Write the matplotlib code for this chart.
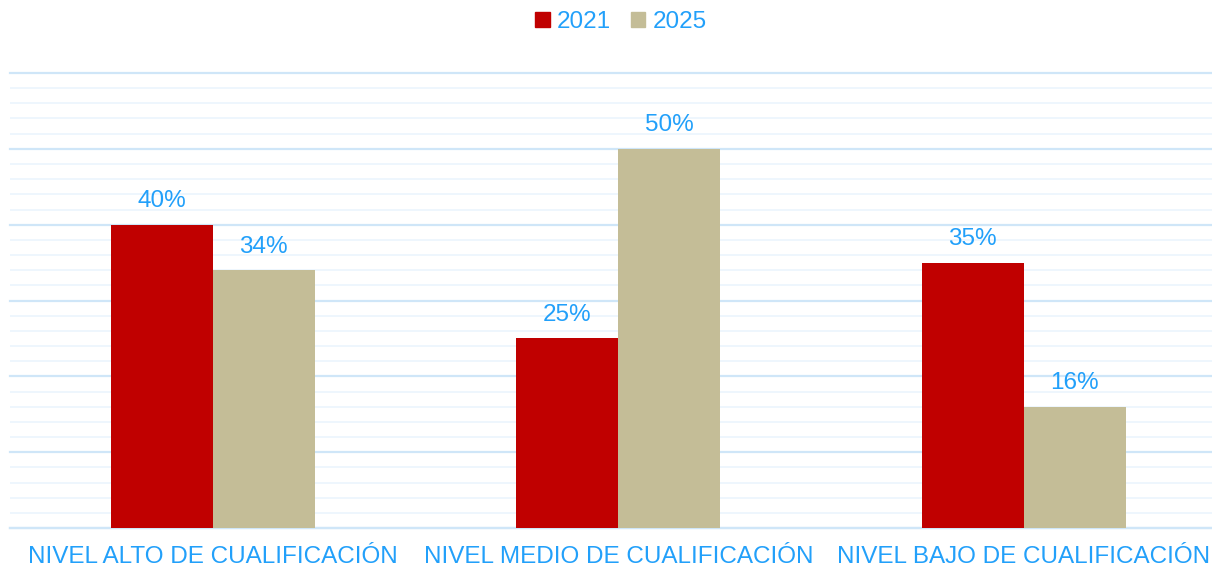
import matplotlib
matplotlib.use("Agg")
import matplotlib.pyplot as plt
from matplotlib.patches import Patch
from matplotlib.ticker import MultipleLocator

categories = ["NIVEL ALTO DE CUALIFICACIÓN", "NIVEL MEDIO DE CUALIFICACIÓN", "NIVEL BAJO DE CUALIFICACIÓN"]
series_names = ["2021", "2025"]
values_2021 = [40, 25, 35]
values_2025 = [34, 50, 16]

c2021 = "#C00000"
c2025 = "#C4BD97"
txt = "#22A0FA"

plt.rcParams['font.family'] = ['Liberation Sans', 'DejaVu Sans']

fig = plt.figure(figsize=(12.12, 5.67), dpi=100)
W, H = 1212, 567
left, right = 10, 1212
bottom, top = 528, 73
ax = fig.add_axes([left / W, (H - bottom) / H, (right - left) / W, (bottom - top) / H])

group_px = 405.5
ax.set_xlim(-0.5, -0.5 + (right - left) / group_px)
ax.set_ylim(0, 60)

bw = 102 / group_px
x = list(range(len(categories)))
b1 = ax.bar([i - bw / 2 for i in x], values_2021, width=bw, color=c2021, zorder=3)
b2 = ax.bar([i + bw / 2 for i in x], values_2025, width=bw, color=c2025, zorder=3)

for bars, vals in ((b1, values_2021), (b2, values_2025)):
    for r, v in zip(bars, vals):
        ax.annotate(f"{v}%", (r.get_x() + r.get_width() / 2, v), xytext=(0, 9),
                    textcoords="offset points", ha="center", va="bottom",
                    fontsize=17.5, color=txt)

ax.yaxis.set_major_locator(MultipleLocator(10))
ax.yaxis.set_minor_locator(MultipleLocator(2))
ax.grid(axis="y", which="major", color="#CFE6F8", linewidth=1.6, zorder=0)
ax.grid(axis="y", which="minor", color="#EEF6FD", linewidth=1.4, zorder=0)
for gl in ax.get_ygridlines():
    gl.set_clip_on(False)
ax.tick_params(axis="y", which="both", left=False, labelleft=False)
ax.tick_params(axis="x", length=0, pad=13, labelsize=17.5, labelcolor=txt)
ax.set_xticks(x)
ax.set_xticklabels(categories)
for s in ["top", "right", "left"]:
    ax.spines[s].set_visible(False)
ax.spines["bottom"].set_color("#CFE6F8")
ax.spines["bottom"].set_linewidth(1.6)

handles = [Patch(color=c2021), Patch(color=c2025)]
leg = fig.legend(handles, series_names, loc="center", bbox_to_anchor=(621 / W, 1 - 22 / H),
                 ncol=2, frameon=False, fontsize=17.5, handlelength=0.6, handleheight=0.6,
                 handletextpad=0.3, columnspacing=0.8)
for t in leg.get_texts():
    t.set_color(txt)

fig.savefig("out.png", dpi=100)
